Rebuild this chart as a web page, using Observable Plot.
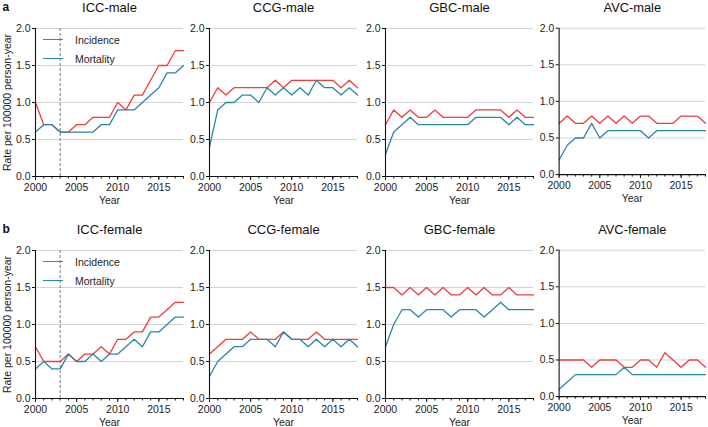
<!DOCTYPE html>
<html>
<head>
<meta charset="utf-8">
<script src="https://cdn.jsdelivr.net/npm/d3@7"></script>
<script src="https://cdn.jsdelivr.net/npm/@observablehq/plot@0.6"></script>
<style>
  body { margin: 0; background: #fff; font-family: "Liberation Sans", Arial, sans-serif; }
  #chart { position: relative; width: 708px; height: 427px; overflow: hidden; background: #fff; }
  .panel { position: absolute; }
  .legend { position: absolute; font-size: 10.5px; color: #222; line-height: 12px; }
  .legend .item { position: absolute; white-space: nowrap; }
  .legend .sw { position: absolute; left: 0; top: 5px; width: 20px; height: 0; border-top: 1.3px solid; }
  .legend .lab { position: absolute; left: 32px; top: 0; }
</style>
</head>
<body>
<div id="chart"></div>
<script>
const years = [2000,2001,2002,2003,2004,2005,2006,2007,2008,2009,2010,2011,2012,2013,2014,2015,2016,2017,2018];
const majorYears = [2000, 2005, 2010, 2015];
const yTicks = [0, 0.5, 1.0, 1.5, 2.0];
const seriesNames = ["Incidence", "Mortality"];
const seriesColors = ["#f03c3c", "#2a86a6"];
const rowLetters = ["a", "b"];

// male (row a)
const iccMaleInc  = [1.0,0.7,0.7,0.6,0.6,0.7,0.7,0.8,0.8,0.8,1.0,0.9,1.1,1.1,1.3,1.5,1.5,1.7,1.7];
const iccMaleMort = [0.6,0.7,0.7,0.6,0.6,0.6,0.6,0.6,0.7,0.7,0.9,0.9,0.9,1.0,1.1,1.2,1.4,1.4,1.5];
const ccgMaleInc  = [1.0,1.2,1.1,1.2,1.2,1.2,1.2,1.2,1.3,1.2,1.3,1.3,1.3,1.3,1.3,1.3,1.2,1.3,1.2];
const ccgMaleMort = [0.4,0.9,1.0,1.0,1.1,1.1,1.0,1.2,1.1,1.2,1.1,1.2,1.1,1.3,1.2,1.2,1.1,1.2,1.1];
const gbcMaleInc  = [0.7,0.9,0.8,0.9,0.8,0.8,0.9,0.8,0.8,0.8,0.8,0.9,0.9,0.9,0.9,0.8,0.9,0.8,0.8];
const gbcMaleMort = [0.3,0.6,0.7,0.8,0.7,0.7,0.7,0.7,0.7,0.7,0.7,0.8,0.8,0.8,0.8,0.7,0.8,0.7,0.7];
const avcMaleInc  = [0.7,0.8,0.7,0.7,0.8,0.7,0.8,0.7,0.8,0.7,0.8,0.8,0.7,0.7,0.7,0.8,0.8,0.8,0.7];
const avcMaleMort = [0.2,0.4,0.5,0.5,0.7,0.5,0.6,0.6,0.6,0.6,0.6,0.5,0.6,0.6,0.6,0.6,0.6,0.6,0.6];

// female (row b)
const iccFemaleInc  = [0.7,0.5,0.5,0.5,0.6,0.5,0.6,0.6,0.7,0.6,0.8,0.8,0.9,0.9,1.1,1.1,1.2,1.3,1.3];
const iccFemaleMort = [0.4,0.5,0.4,0.4,0.6,0.5,0.5,0.6,0.5,0.6,0.6,0.7,0.8,0.7,0.9,0.9,1.0,1.1,1.1];
const ccgFemaleInc  = [0.6,0.7,0.8,0.8,0.8,0.9,0.8,0.8,0.8,0.9,0.8,0.8,0.8,0.9,0.8,0.8,0.8,0.8,0.8];
const ccgFemaleMort = [0.3,0.5,0.6,0.7,0.7,0.8,0.8,0.8,0.7,0.9,0.8,0.8,0.7,0.8,0.7,0.8,0.7,0.8,0.7];
const gbcFemaleInc  = [1.5,1.5,1.4,1.5,1.4,1.5,1.4,1.5,1.4,1.4,1.5,1.4,1.5,1.4,1.4,1.5,1.4,1.4,1.4];
const gbcFemaleMort = [0.7,1.0,1.2,1.2,1.1,1.2,1.2,1.2,1.1,1.2,1.2,1.2,1.1,1.2,1.3,1.2,1.2,1.2,1.2];
const avcFemaleInc  = [0.5,0.5,0.5,0.5,0.4,0.5,0.5,0.5,0.4,0.4,0.5,0.5,0.4,0.6,0.5,0.4,0.5,0.5,0.4];
const avcFemaleMort = [0.1,0.2,0.3,0.3,0.3,0.3,0.3,0.3,0.4,0.3,0.3,0.3,0.3,0.3,0.3,0.3,0.3,0.3,0.3];

const joinpointYears = [2003];

const panels = [
  {title: "ICC-male",   inc: iccMaleInc,   mort: iccMaleMort,   row: 0, col: 0, joinpoint: true,  legend: true},
  {title: "CCG-male",   inc: ccgMaleInc,   mort: ccgMaleMort,   row: 0, col: 1},
  {title: "GBC-male",   inc: gbcMaleInc,   mort: gbcMaleMort,   row: 0, col: 2},
  {title: "AVC-male",   inc: avcMaleInc,   mort: avcMaleMort,   row: 0, col: 3},
  {title: "ICC-female", inc: iccFemaleInc, mort: iccFemaleMort, row: 1, col: 0, joinpoint: true,  legend: true},
  {title: "CCG-female", inc: ccgFemaleInc, mort: ccgFemaleMort, row: 1, col: 1},
  {title: "GBC-female", inc: gbcFemaleInc, mort: gbcFemaleMort, row: 1, col: 2},
  {title: "AVC-female", inc: avcFemaleInc, mort: avcFemaleMort, row: 1, col: 3}
];

const colLefts = [0, 174, 350, 524];
const rowTops = [0, 222];
const mLeft = 35, mTop = 28;

function makePanel(p) {
  const data = years.flatMap((yr, i) => [
    {year: yr, rate: p.inc[i], series: seriesNames[0]},
    {year: yr, rate: p.mort[i], series: seriesNames[1]}
  ]);
  const mBottom = p.row === 0 ? 32 : 29;
  return Plot.plot({
    width: 186,
    height: mTop + 148 + mBottom,
    marginLeft: mLeft, marginRight: 3, marginTop: mTop, marginBottom: mBottom,
    style: {fontFamily: "'Liberation Sans', Arial, sans-serif", fontSize: "10px", color: "#222", background: "transparent", overflow: "visible"},
    x: {domain: [2000, 2018]},
    y: {domain: [0, 2]},
    color: {domain: seriesNames, range: seriesColors},
    marks: [
      Plot.gridY(yTicks.slice(1), {stroke: "#d3d3d3", strokeOpacity: 1, strokeWidth: 1}),
      p.joinpoint ? Plot.ruleX(joinpointYears, {stroke: "#777", strokeDasharray: "3,2", strokeWidth: 1}) : null,
      Plot.lineY(data, {x: "year", y: "rate", stroke: "series", strokeWidth: 1.3}),
      Plot.ruleY([0], {stroke: "#111", strokeWidth: 1.1}),
      Plot.ruleX([2000], {stroke: "#111", strokeWidth: 1.1}),
      Plot.axisY({ticks: yTicks, tickFormat: d3.format(".1f"), tickSize: 3, tickPadding: 2, label: null, stroke: "#111", fontSize: 10.5}),
      Plot.axisX({ticks: majorYears, tickFormat: "d", tickSize: 4, tickPadding: 3, label: null, stroke: "#111", fontSize: 10.5}),
      Plot.axisX({ticks: years, tickFormat: () => "", tickSize: 2.5, label: null, stroke: "#111"}),
      Plot.text([p.title], {frameAnchor: "top", dy: -21, lineAnchor: "middle", fontSize: 13, fill: "#111"}),
      Plot.text(["Year"], {frameAnchor: "bottom", dy: 24, lineAnchor: "middle", fontSize: 10.5, fill: "#222"}),
      p.col === 0 ? Plot.text(["Rate per 100000 person-year"], {frameAnchor: "left", dx: -28, rotate: -90, textAnchor: "middle", lineAnchor: "middle", fontSize: 10.5, fill: "#222"}) : null,
      p.col === 0 ? Plot.text([rowLetters[p.row]], {frameAnchor: "top-left", dx: -33, dy: -21, lineAnchor: "middle", textAnchor: "start", fontWeight: "bold", fontSize: 12, fill: "#111"}) : null
    ]
  });
}

const chart = document.getElementById("chart");
for (const p of panels) {
  const div = document.createElement("div");
  div.className = "panel";
  div.style.left = colLefts[p.col] + "px";
  div.style.top = rowTops[p.row] + "px";
  div.appendChild(makePanel(p));
  if (p.legend) {
    const lg = document.createElement("div");
    lg.className = "legend";
    lg.style.left = (mLeft + 8) + "px";
    lg.style.top = (mTop + 6) + "px";
    seriesNames.forEach((name, i) => {
      const it = document.createElement("div");
      it.className = "item";
      it.style.top = (i * 19) + "px";
      it.innerHTML = `<span class="sw" style="border-color:${seriesColors[i]}"></span><span class="lab">${name}</span>`;
      lg.appendChild(it);
    });
    div.appendChild(lg);
  }
  chart.appendChild(div);
}
</script>
</body>
</html>
